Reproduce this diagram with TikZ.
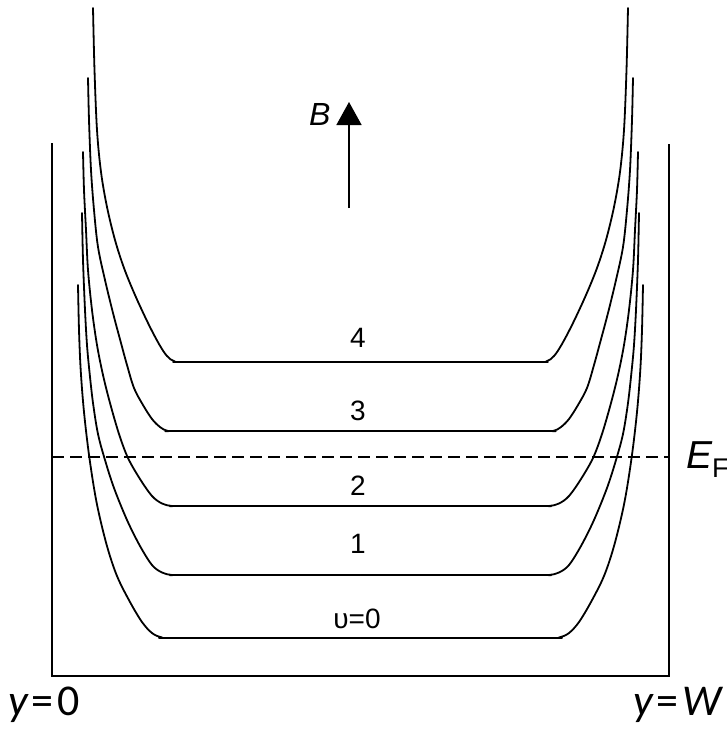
\documentclass[tikz,border=0pt]{standalone}
\usepackage{fontspec}
\setmainfont{Liberation Sans}
\newfontfamily\calfont{Carlito}
\usetikzlibrary{arrows.meta}
\begin{document}
\begin{tikzpicture}[x=1pt,y=-1pt]
\tikzset{
  curve/.style={line width=1.8pt, line join=round, line cap=round},
  wall/.style={line width=1.8pt, line join=miter},
  lab/.style={font=\fontsize{28}{28}\selectfont, inner sep=0pt, anchor=base},
  botlab/.style={font=\calfont\fontsize{44}{44}\selectfont, inner sep=0pt},
  fermi/.style={line width=1.6pt, dash pattern=on 12pt off 6pt}
}
\useasboundingbox (0,0) rectangle (726,742);
% box
\coordinate (tl) at (52,143);
\coordinate (bl) at (52,676);
\coordinate (br) at (669,676);
\coordinate (tr) at (669,144);
\draw[wall] (tl) -- (bl) -- (br) -- (tr);
% Landau levels (left halves, mirrored)
\foreach \s/\sh in {1/0,-1/721}{
\begin{scope}[xshift=\sh pt, xscale=\s]
\draw[curve] plot[smooth, tension=0.55] coordinates {(93,8) (94.5,70) (97,130) (101,172) (107,207) (115,240) (124,268) (135,295) (148,323) (159,344) (167,356) (175,361.5) (190,362) (360.5,362)};
\draw[curve] plot[smooth, tension=0.55] coordinates {(88,78) (89,120) (91,170) (94,210) (98,247) (105,280) (113,313) (121,343) (127,365) (134,388) (143,405) (152,419) (160,427) (168,431) (182,431) (360.5,431)};
\draw[curve] plot[smooth, tension=0.55] coordinates {(83,152) (84,190) (86,230) (88,270) (92,310) (97,345) (103,375) (110,403) (119,434) (128,458) (140,479) (152,496) (162,503.5) (172,506) (186,506) (360.5,506)};
\draw[curve] plot[smooth, tension=0.55] coordinates {(82,213) (83,260) (85,310) (87,345) (89.5,372) (93,403) (98,434) (105,460) (114,488) (127,520) (140,546) (152,565) (162,572.5) (172,575) (186,575) (360.5,575)};
\draw[curve] plot[smooth, tension=0.55] coordinates {(78,285) (79,330) (80.7,370) (84,412) (89.3,457) (96.7,503) (106.7,545) (117,576) (130,602) (142,622) (152,633) (162,637.5) (176,638) (360.5,638)};
\end{scope}}
% Fermi level
\coordinate (fl) at (52,457);
\coordinate (fr) at (669,457);
\draw[fermi] (fl) -- (fr);
\node[anchor=base west, inner sep=0pt, font=\fontsize{39}{39}\selectfont] (ef) at (686,468) {\itshape E\upshape\raisebox{-9pt}{\fontsize{27}{27}\selectfont F}};
% level labels
\node[lab] (n4) at (358,347) {4};
\node[lab] (n3) at (358,420) {3};
\node[lab] (n2) at (358,495) {2};
\node[lab] (n1) at (358,553) {1};
\node[lab] (n0) at (357,628) {υ=0};
% B field
\coordinate (bbot) at (349,208);
\coordinate (btop) at (349,102);
\draw[line width=1.6pt, -{Triangle[width=25pt,length=23pt]}] (bbot) -- (btop);
\node[anchor=base west, inner sep=0pt, font=\fontsize{32}{32}\selectfont\itshape] (blab) at (309,125) {B};
% bottom labels
\node[botlab, anchor=base west] (y0) at (8,715) {\itshape y\upshape\kern4pt=\kern4pt0};
\node[botlab, anchor=base east] (yw) at (722,715) {\itshape y\upshape\kern4pt=\kern4pt\itshape W};
\end{tikzpicture}
\end{document}
